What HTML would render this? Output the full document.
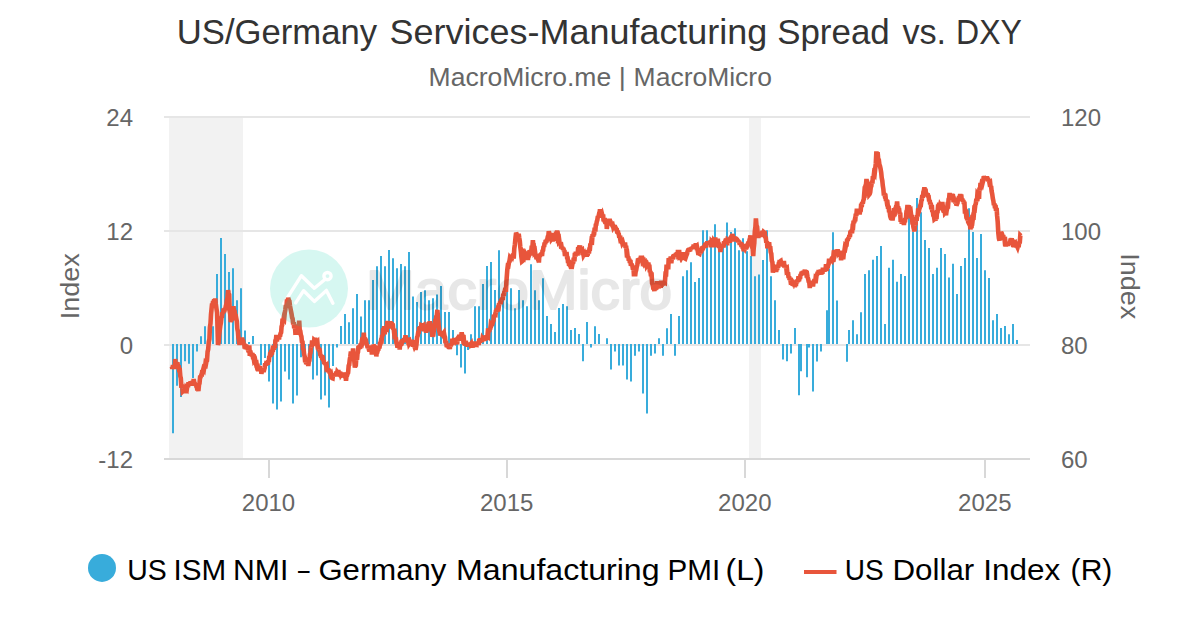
<!DOCTYPE html>
<html><head><meta charset="utf-8">
<style>
html,body{margin:0;padding:0;background:#fff;}
body{width:1200px;height:630px;overflow:hidden;}
svg{display:block;font-family:"Liberation Sans",sans-serif;}
</style></head><body>
<svg width="1200" height="630" viewBox="0 0 1200 630">
<rect width="1200" height="630" fill="#fff"/>
<text x="176.83" y="44.2" font-size="35" fill="#333333" textLength="200.24" lengthAdjust="spacingAndGlyphs">US/Germany</text>
<text x="389.62" y="44.2" font-size="35" fill="#333333" textLength="377.7" lengthAdjust="spacingAndGlyphs">Services-Manufacturing</text>
<text x="777.16" y="44.2" font-size="35" fill="#333333" textLength="112.59" lengthAdjust="spacingAndGlyphs">Spread</text>
<text x="902.38" y="44.2" font-size="35" fill="#333333" textLength="43.74" lengthAdjust="spacingAndGlyphs">vs.</text>
<text x="956.12" y="44.2" font-size="35" fill="#333333" textLength="65.83" lengthAdjust="spacingAndGlyphs">DXY</text>
<text x="428.63" y="85.8" font-size="25.4" fill="#666666" textLength="182.55" lengthAdjust="spacingAndGlyphs">MacroMicro.me</text>
<text x="618.87" y="85.8" font-size="25.4" fill="#666666" textLength="7.05" lengthAdjust="spacingAndGlyphs">|</text>
<text x="633.63" y="85.8" font-size="25.4" fill="#666666" textLength="138.28" lengthAdjust="spacingAndGlyphs">MacroMicro</text>
<rect x="169" y="117" width="74" height="342" fill="#f2f2f2"/>
<rect x="749" y="117" width="12" height="342" fill="#f2f2f2"/>
<path d="M164 117H1030M164 231H1030M164 345H1030" stroke="#e6e6e6" stroke-width="2" fill="none"/>
<path d="M164 459H1030" stroke="#d8d8d8" stroke-width="2" fill="none"/>
<path d="M269 460V478M507 460V478M745 460V478M985 460V478" stroke="#d8d8d8" stroke-width="2" fill="none"/>
<path fill="#38acdb" d="M172 344.0h2V433.3h-2ZM176 344.0h2V385.7h-2ZM180 344.0h2V397.1h-2ZM184 344.0h2V361.3h-2ZM188 344.0h2V363.8h-2ZM192 344.0h2V378.1h-2ZM196 344.0h2V351.4h-2ZM200 336.3h2V344.0h-2ZM204 326.3h2V344.0h-2ZM208 326.4h2V344.0h-2ZM212 326.3h2V344.0h-2ZM216 274.1h2V344.0h-2ZM220 238.0h2V344.0h-2ZM224 254.1h2V344.0h-2ZM228 272.0h2V344.0h-2ZM232 268.2h2V344.0h-2ZM236 300.2h2V344.0h-2ZM240 288.2h2V344.0h-2ZM244 330.4h2V344.0h-2ZM248 342.0h2V344.0h-2ZM252 336.0h2V344.0h-2ZM260 344.0h2V365.2h-2ZM264 344.0h2V358.0h-2ZM268 344.0h2V381.5h-2ZM272 344.0h2V403.4h-2ZM276 344.0h2V409.4h-2ZM280 344.0h2V401.6h-2ZM284 344.0h2V371.5h-2ZM288 344.0h2V379.6h-2ZM292 344.0h2V403.4h-2ZM296 344.0h2V395.6h-2ZM300 344.0h2V357.3h-2ZM304 344.0h2V350.0h-2ZM308 344.0h2V355.0h-2ZM312 344.0h2V379.6h-2ZM316 344.0h2V375.4h-2ZM320 344.0h2V399.5h-2ZM324 344.0h2V395.5h-2ZM328 344.0h2V407.6h-2ZM332 344.0h2V366.0h-2ZM336 344.0h2V347.6h-2ZM340 326.0h2V344.0h-2ZM344 314.1h2V344.0h-2ZM348 322.2h2V344.0h-2ZM352 308.2h2V344.0h-2ZM356 294.1h2V344.0h-2ZM360 316.4h2V344.0h-2ZM364 300.2h2V344.0h-2ZM368 300.2h2V344.0h-2ZM372 280.1h2V344.0h-2ZM376 266.2h2V344.0h-2ZM380 256.1h2V344.0h-2ZM384 266.2h2V344.0h-2ZM388 250.1h2V344.0h-2ZM392 258.2h2V344.0h-2ZM396 268.2h2V344.0h-2ZM400 264.1h2V344.0h-2ZM404 266.2h2V344.0h-2ZM408 252.1h2V344.0h-2ZM412 296.4h2V344.0h-2ZM416 302.1h2V344.0h-2ZM420 292.0h2V344.0h-2ZM424 290.3h2V344.0h-2ZM428 300.2h2V344.0h-2ZM432 298.3h2V344.0h-2ZM436 294.5h2V344.0h-2ZM440 286.0h2V344.0h-2ZM444 312.0h2V344.0h-2ZM448 312.1h2V344.0h-2ZM452 330.0h2V344.0h-2ZM456 344.0h2V355.3h-2ZM460 344.0h2V367.5h-2ZM464 344.0h2V373.4h-2ZM467 344.0h2V350.0h-2ZM470 334.2h2V344.0h-2ZM474 306.3h2V344.0h-2ZM478 306.3h2V344.0h-2ZM482 284.1h2V344.0h-2ZM486 266.1h2V344.0h-2ZM490 262.1h2V344.0h-2ZM494 290.1h2V344.0h-2ZM498 250.2h2V344.0h-2ZM502 298.0h2V344.0h-2ZM506 288.0h2V344.0h-2ZM510 288.3h2V344.0h-2ZM514 308.3h2V344.0h-2ZM518 290.1h2V344.0h-2ZM522 300.3h2V344.0h-2ZM526 306.3h2V344.0h-2ZM530 264.3h2V344.0h-2ZM534 290.2h2V344.0h-2ZM538 300.3h2V344.0h-2ZM542 278.3h2V344.0h-2ZM546 316.1h2V344.0h-2ZM550 324.1h2V344.0h-2ZM554 332.0h2V344.0h-2ZM558 307.9h2V344.0h-2ZM562 304.1h2V344.0h-2ZM566 306.2h2V344.0h-2ZM570 330.0h2V344.0h-2ZM574 328.0h2V344.0h-2ZM578 334.1h2V344.0h-2ZM582 344.0h2V361.3h-2ZM586 322.1h2V344.0h-2ZM590 344.0h2V347.5h-2ZM594 326.2h2V344.0h-2ZM598 334.1h2V344.0h-2ZM606 338.2h2V344.0h-2ZM610 344.0h2V369.5h-2ZM614 344.0h2V351.4h-2ZM618 344.0h2V365.4h-2ZM622 344.0h2V365.6h-2ZM626 344.0h2V379.5h-2ZM630 344.0h2V381.4h-2ZM634 344.0h2V355.7h-2ZM638 344.0h2V351.5h-2ZM642 344.0h2V393.4h-2ZM646 344.0h2V413.4h-2ZM650 344.0h2V355.7h-2ZM654 344.0h2V353.4h-2ZM658 338.2h2V344.0h-2ZM662 344.0h2V355.7h-2ZM666 328.2h2V344.0h-2ZM670 314.1h2V344.0h-2ZM674 344.0h2V355.7h-2ZM678 316.1h2V344.0h-2ZM682 276.3h2V344.0h-2ZM686 270.2h2V344.0h-2ZM690 262.2h2V344.0h-2ZM694 282.0h2V344.0h-2ZM698 277.9h2V344.0h-2ZM702 230.3h2V344.0h-2ZM706 230.3h2V344.0h-2ZM710 238.2h2V344.0h-2ZM714 224.2h2V344.0h-2ZM718 245.0h2V344.0h-2ZM722 247.0h2V344.0h-2ZM726 222.4h2V344.0h-2ZM730 232.1h2V344.0h-2ZM734 228.2h2V344.0h-2ZM738 250.2h2V344.0h-2ZM742 238.2h2V344.0h-2ZM746 251.2h2V344.0h-2ZM750 256.0h2V344.0h-2ZM754 276.3h2V344.0h-2ZM758 274.4h2V344.0h-2ZM762 260.1h2V344.0h-2ZM766 230.3h2V344.0h-2ZM770 276.3h2V344.0h-2ZM774 300.3h2V344.0h-2ZM778 330.0h2V344.0h-2ZM782 344.0h2V359.5h-2ZM786 344.0h2V361.3h-2ZM790 344.0h2V353.6h-2ZM794 328.1h2V344.0h-2ZM798 344.0h2V395.3h-2ZM800 344.0h2V371.3h-2ZM806 344.0h2V377.3h-2ZM808 344.0h2V347.4h-2ZM812 344.0h2V391.5h-2ZM816 344.0h2V361.5h-2ZM820 344.0h2V351.5h-2ZM826 310.3h2V344.0h-2ZM828 268.6h2V344.0h-2ZM832 232.3h2V344.0h-2ZM836 300.4h2V344.0h-2ZM846 344.0h2V361.7h-2ZM848 330.0h2V344.0h-2ZM852 320.2h2V344.0h-2ZM856 334.3h2V344.0h-2ZM860 312.2h2V344.0h-2ZM864 274.1h2V344.0h-2ZM868 270.2h2V344.0h-2ZM872 259.8h2V344.0h-2ZM876 255.9h2V344.0h-2ZM880 245.9h2V344.0h-2ZM884 324.1h2V344.0h-2ZM888 267.8h2V344.0h-2ZM892 259.8h2V344.0h-2ZM896 281.8h2V344.0h-2ZM900 274.1h2V344.0h-2ZM904 276.0h2V344.0h-2ZM908 217.0h2V344.0h-2ZM912 232.0h2V344.0h-2ZM916 197.9h2V344.0h-2ZM920 212.2h2V344.0h-2ZM924 240.0h2V344.0h-2ZM928 247.9h2V344.0h-2ZM932 274.1h2V344.0h-2ZM936 267.8h2V344.0h-2ZM940 247.9h2V344.0h-2ZM944 254.0h2V344.0h-2ZM948 277.6h2V344.0h-2ZM952 263.8h2V344.0h-2ZM956 294.0h2V344.0h-2ZM960 265.9h2V344.0h-2ZM964 257.9h2V344.0h-2ZM968 208.3h2V344.0h-2ZM972 232.0h2V344.0h-2ZM976 257.9h2V344.0h-2ZM980 234.1h2V344.0h-2ZM984 270.2h2V344.0h-2ZM988 278.1h2V344.0h-2ZM992 320.2h2V344.0h-2ZM996 314.1h2V344.0h-2ZM1000 327.9h2V344.0h-2ZM1004 326.0h2V344.0h-2ZM1008 334.3h2V344.0h-2ZM1012 324.1h2V344.0h-2ZM1016 340.0h2V344.0h-2Z"/>
<path d="M171.9 366.5 L172.4 368.7 L173.0 365.1 L173.6 368.2 L174.1 366.8 L174.7 369.0 L175.2 359.0 L175.8 365.9 L176.3 362.0 L176.8 365.3 L177.4 362.2 L178.0 366.9 L178.6 365.2 L179.2 370.1 L179.8 370.1 L180.3 376.2 L180.8 378.2 L181.4 387.8 L182.0 384.6 L182.7 391.6 L183.3 391.1 L183.8 392.6 L184.3 391.1 L184.8 392.3 L185.4 386.4 L185.9 393.3 L186.4 388.1 L186.9 388.7 L187.4 385.3 L188.0 387.2 L188.5 382.3 L189.0 385.5 L189.5 382.5 L190.1 384.0 L190.6 381.4 L191.1 384.3 L191.6 381.9 L192.1 385.7 L192.7 380.8 L193.2 383.9 L193.7 379.0 L194.2 382.3 L194.7 383.2 L195.3 385.5 L195.8 384.3 L196.3 386.3 L196.8 386.6 L197.4 390.4 L197.9 388.9 L198.4 391.1 L199.0 384.7 L199.5 383.5 L200.1 377.1 L200.6 376.9 L201.2 375.2 L201.7 376.5 L202.3 370.1 L202.8 371.4 L203.4 368.9 L203.9 369.6 L204.4 366.4 L204.9 368.2 L205.5 363.2 L206.0 363.8 L206.5 361.0 L207.0 360.5 L207.6 351.7 L208.2 349.3 L208.8 341.9 L209.4 339.3 L209.9 327.4 L210.5 323.3 L211.0 314.5 L211.6 308.5 L212.1 303.5 L212.6 305.3 L213.1 301.1 L213.7 302.4 L214.2 299.3 L214.7 301.3 L215.2 298.6 L215.8 304.0 L216.5 309.0 L217.1 312.7 L218.0 344.9 L218.6 342.1 L219.2 334.6 L219.8 329.8 L220.3 325.9 L220.9 322.6 L221.4 317.7 L222.0 316.7 L222.5 312.2 L223.1 313.6 L223.6 308.5 L224.2 312.1 L224.7 309.3 L225.3 309.0 L225.9 305.8 L226.4 304.0 L226.9 299.9 L227.5 297.9 L228.1 290.1 L228.6 292.9 L229.2 294.6 L229.7 311.2 L230.2 313.7 L230.8 322.1 L231.3 318.1 L231.9 320.7 L232.4 311.3 L233.0 312.2 L233.5 306.3 L234.0 311.0 L234.6 311.4 L235.1 314.8 L235.7 315.4 L236.2 318.1 L236.8 321.0 L237.3 328.7 L237.9 331.4 L238.4 337.7 L239.0 340.6 L239.5 344.9 L240.0 341.5 L240.5 340.8 L241.1 337.7 L241.6 341.4 L242.1 337.5 L242.6 341.8 L243.1 339.8 L243.7 344.3 L244.2 343.4 L244.7 348.4 L245.2 344.4 L245.8 349.2 L246.3 345.4 L246.8 346.7 L247.3 345.7 L247.8 349.9 L248.3 348.1 L248.8 352.5 L249.3 345.4 L249.8 355.9 L250.3 350.7 L250.8 353.9 L251.3 352.9 L251.9 356.4 L252.4 353.0 L252.9 356.8 L253.4 356.7 L254.0 360.4 L254.5 359.7 L255.0 362.9 L255.6 361.8 L256.1 364.2 L256.6 363.8 L257.1 367.2 L257.7 366.9 L258.2 371.3 L258.7 365.7 L259.3 370.7 L259.8 366.3 L260.4 370.6 L260.9 368.6 L261.4 373.9 L262.0 370.4 L262.5 371.7 L263.1 368.0 L263.6 371.8 L264.1 370.0 L264.7 367.8 L265.2 363.2 L265.7 365.4 L266.2 363.2 L266.8 363.3 L267.3 362.0 L267.8 364.6 L268.3 360.5 L268.8 362.0 L269.3 355.9 L269.8 356.9 L270.3 351.9 L270.8 356.6 L271.3 350.0 L271.8 354.7 L272.3 351.0 L272.8 351.8 L273.3 346.8 L273.8 349.6 L274.4 345.6 L274.9 348.2 L275.4 340.6 L275.9 340.2 L276.4 334.9 L276.9 341.6 L277.4 337.2 L277.9 338.4 L278.5 336.1 L279.0 339.4 L279.5 335.5 L280.0 336.6 L280.5 333.6 L281.1 332.6 L281.6 326.6 L282.1 325.2 L282.6 318.6 L283.2 321.1 L283.7 318.1 L284.2 318.8 L284.8 312.6 L285.3 310.1 L285.9 304.9 L286.4 307.5 L287.0 299.4 L287.6 302.4 L288.2 297.9 L288.8 300.1 L289.4 301.1 L289.9 305.3 L290.4 308.1 L291.0 311.1 L291.5 313.7 L292.1 317.6 L292.6 318.6 L293.2 324.6 L293.7 322.3 L294.2 328.4 L294.8 324.4 L295.3 331.7 L295.9 331.4 L296.4 334.5 L297.0 331.0 L297.5 332.5 L298.1 328.3 L298.6 329.7 L299.2 320.6 L299.7 329.6 L300.3 331.0 L300.8 334.7 L301.4 336.4 L301.9 341.5 L302.5 342.0 L303.0 348.9 L303.6 349.6 L304.1 354.2 L304.7 356.7 L305.2 362.3 L305.7 358.9 L306.2 364.3 L306.8 357.5 L307.3 364.7 L307.8 362.9 L308.3 365.9 L308.9 361.5 L309.4 360.6 L310.0 354.0 L310.5 352.8 L311.1 345.6 L311.6 347.5 L312.1 340.4 L312.6 345.9 L313.2 340.9 L313.7 344.7 L314.2 339.9 L314.7 340.3 L315.2 337.7 L315.8 343.1 L316.3 339.8 L316.9 343.0 L317.4 342.4 L318.0 349.5 L318.5 347.5 L319.1 351.0 L319.6 348.5 L320.2 354.6 L320.7 355.3 L321.2 357.6 L321.7 354.9 L322.2 359.7 L322.7 355.8 L323.2 361.1 L323.7 360.1 L324.2 363.9 L324.7 362.5 L325.2 364.7 L325.8 362.6 L326.3 366.9 L326.8 366.2 L327.3 370.7 L327.9 368.2 L328.4 372.2 L328.9 368.8 L329.5 372.3 L330.0 372.7 L330.5 374.5 L331.0 373.9 L331.6 377.3 L332.1 378.0 L332.6 378.2 L333.1 373.8 L333.6 376.4 L334.2 374.3 L334.7 376.4 L335.2 373.5 L335.7 375.0 L336.2 371.6 L336.8 374.5 L337.3 371.9 L337.8 372.5 L338.3 370.0 L338.9 374.0 L339.4 373.9 L339.9 375.2 L340.4 372.5 L340.9 374.6 L341.4 373.8 L341.9 374.0 L342.4 372.9 L342.9 375.0 L343.4 374.8 L343.9 375.5 L344.4 375.2 L345.0 376.3 L345.5 372.5 L346.0 380.9 L346.5 375.8 L347.1 375.4 L347.6 373.5 L348.1 372.7 L348.7 365.5 L349.2 364.8 L349.8 359.3 L350.3 356.6 L350.9 351.5 L351.4 354.6 L352.0 352.3 L352.5 354.4 L353.1 348.4 L353.7 356.6 L354.3 360.8 L354.9 367.6 L355.4 363.9 L355.9 364.0 L356.4 356.0 L357.0 359.8 L357.5 353.6 L358.0 352.0 L358.5 346.0 L359.0 349.1 L359.6 345.4 L360.1 348.7 L360.6 343.4 L361.1 345.5 L361.7 342.2 L362.2 342.9 L362.7 340.6 L363.3 340.4 L363.8 332.6 L364.4 341.4 L364.9 337.8 L365.5 340.8 L366.0 340.8 L366.6 344.4 L367.1 345.2 L367.7 348.0 L368.2 346.4 L368.7 348.5 L369.2 348.3 L369.8 351.7 L370.3 348.4 L370.8 350.3 L371.3 347.6 L371.9 354.5 L372.4 345.7 L373.0 348.7 L373.5 344.9 L374.1 346.1 L374.6 346.4 L375.2 350.8 L375.7 347.1 L376.3 356.4 L376.8 352.2 L377.3 352.1 L377.9 349.9 L378.4 349.5 L378.9 346.0 L379.4 348.4 L380.0 343.7 L380.5 343.6 L381.0 340.7 L381.6 340.9 L382.1 335.0 L382.7 336.0 L383.2 328.1 L383.7 333.5 L384.2 326.2 L384.7 334.3 L385.3 327.9 L385.8 330.5 L386.3 328.1 L386.8 328.5 L387.3 321.0 L387.9 326.2 L388.4 324.9 L388.9 328.3 L389.4 321.7 L390.0 325.6 L390.5 321.2 L391.0 325.3 L391.6 322.3 L392.1 326.0 L392.7 323.5 L393.2 329.6 L393.7 328.7 L394.3 334.3 L394.8 333.7 L395.3 338.8 L395.8 337.3 L396.4 342.9 L396.9 343.2 L397.5 347.8 L398.1 345.1 L398.7 346.8 L399.2 342.7 L399.7 349.6 L400.2 341.8 L400.8 345.8 L401.3 342.6 L401.8 342.7 L402.3 339.6 L402.8 342.3 L403.4 339.1 L403.9 341.2 L404.4 338.1 L404.9 342.3 L405.5 335.3 L406.0 338.8 L406.5 337.6 L407.0 341.6 L407.5 338.2 L408.1 341.4 L408.6 341.0 L409.1 343.8 L409.6 343.0 L410.1 346.1 L410.7 343.4 L411.2 343.3 L411.7 339.9 L412.2 343.4 L412.8 340.2 L413.3 346.7 L413.8 344.3 L414.4 346.2 L414.9 345.1 L415.5 349.9 L416.0 347.4 L416.5 344.3 L417.1 337.3 L417.6 336.2 L418.2 332.5 L418.7 332.3 L419.2 326.9 L419.8 329.9 L420.3 326.4 L420.8 330.5 L421.3 325.3 L421.9 325.6 L422.4 323.5 L422.9 326.0 L423.5 325.5 L424.0 331.4 L424.5 328.5 L425.0 330.2 L425.6 328.5 L426.1 332.7 L426.6 328.9 L427.1 331.0 L427.6 325.9 L428.2 325.0 L428.7 322.5 L429.2 323.6 L429.7 321.4 L430.2 324.4 L430.8 327.3 L431.3 330.1 L431.9 332.0 L432.4 336.8 L433.0 333.3 L433.5 333.5 L434.1 327.8 L434.6 325.5 L435.2 320.8 L435.8 320.7 L436.3 316.4 L436.8 315.8 L437.4 309.8 L438.0 317.7 L438.5 323.7 L439.1 330.3 L439.7 332.6 L440.2 335.3 L440.8 334.0 L441.3 334.4 L441.8 331.8 L442.3 335.0 L442.9 331.1 L443.4 333.5 L443.9 332.8 L444.5 336.0 L445.0 337.2 L445.5 343.2 L446.0 341.1 L446.6 345.5 L447.1 345.7 L447.6 346.8 L448.2 344.0 L448.7 346.9 L449.3 347.0 L449.8 348.9 L450.3 344.7 L450.8 346.3 L451.3 343.4 L451.9 344.8 L452.4 338.6 L452.9 343.8 L453.4 338.8 L453.9 339.8 L454.5 338.2 L455.0 344.5 L455.5 339.5 L456.0 340.9 L456.6 340.0 L457.1 344.4 L457.6 338.8 L458.1 340.8 L458.6 336.3 L459.1 340.6 L459.7 336.7 L460.2 338.4 L460.7 334.7 L461.2 336.1 L461.7 332.4 L462.2 336.0 L462.7 334.8 L463.2 339.7 L463.8 339.2 L464.3 345.0 L464.8 343.5 L465.3 345.4 L465.8 340.9 L466.4 345.6 L466.9 343.4 L467.4 346.7 L467.9 343.1 L468.5 346.4 L469.0 344.2 L469.5 345.5 L470.0 342.7 L470.5 344.4 L471.1 343.6 L471.6 346.6 L472.1 343.2 L472.6 347.7 L473.1 343.0 L473.6 346.8 L474.1 343.9 L474.6 347.1 L475.2 341.4 L475.7 346.0 L476.2 344.3 L476.7 344.5 L477.2 341.7 L477.7 344.7 L478.2 342.8 L478.7 345.0 L479.3 338.8 L479.8 341.7 L480.3 338.4 L480.8 340.9 L481.3 340.5 L481.9 341.8 L482.4 339.0 L482.9 339.9 L483.4 335.6 L484.0 340.9 L484.5 337.0 L485.0 340.4 L485.5 337.7 L486.0 339.2 L486.6 335.4 L487.1 339.9 L487.6 334.3 L488.1 335.0 L488.6 328.5 L489.2 331.9 L489.7 328.4 L490.2 329.6 L490.7 324.9 L491.3 325.8 L491.8 324.7 L492.3 324.3 L492.9 321.7 L493.4 320.8 L493.9 314.8 L494.4 316.8 L495.0 314.9 L495.5 315.0 L496.0 310.1 L496.5 312.2 L497.0 308.0 L497.6 311.3 L498.1 308.0 L498.6 308.2 L499.1 303.2 L499.6 304.4 L500.2 301.4 L500.7 304.0 L501.2 299.0 L501.7 299.8 L502.3 297.9 L502.8 300.0 L503.3 293.7 L503.8 296.0 L504.3 292.1 L504.9 290.5 L505.4 287.9 L505.9 291.9 L506.4 281.8 L507.3 269.7 L507.8 265.7 L508.4 265.9 L508.9 262.8 L509.5 260.9 L510.0 257.7 L510.5 258.3 L511.1 256.3 L511.6 257.8 L512.1 254.9 L512.6 256.0 L513.2 254.0 L513.7 258.7 L514.3 248.4 L514.9 244.3 L515.5 237.8 L516.1 232.8 L516.6 233.9 L517.1 236.3 L517.7 234.6 L518.2 237.8 L518.7 233.8 L519.2 237.6 L519.8 241.0 L520.3 247.0 L520.9 251.7 L521.4 256.9 L522.0 261.3 L522.5 260.9 L523.1 258.4 L523.6 258.7 L524.2 254.0 L524.7 254.8 L525.2 253.4 L525.8 254.5 L526.3 255.4 L526.9 258.0 L527.4 251.4 L527.9 260.0 L528.5 255.1 L529.0 255.1 L529.6 250.3 L530.1 255.6 L530.7 250.1 L531.2 252.3 L531.8 245.8 L532.3 249.2 L532.9 240.2 L533.4 247.7 L533.9 247.3 L534.4 252.1 L535.0 251.3 L535.5 255.2 L536.0 254.3 L536.5 259.3 L537.1 257.1 L537.8 258.9 L538.4 258.2 L538.9 262.6 L539.4 254.0 L539.9 256.8 L540.5 253.8 L541.0 254.9 L541.5 252.9 L542.0 255.9 L542.5 250.9 L543.1 250.2 L543.6 245.9 L544.1 247.0 L544.6 242.6 L545.2 244.2 L545.7 239.9 L546.2 242.4 L546.7 240.3 L547.2 240.0 L547.8 236.6 L548.3 235.9 L548.8 231.2 L549.3 233.3 L549.9 234.1 L550.4 236.2 L551.0 235.9 L551.5 239.0 L552.1 238.2 L552.6 241.4 L553.1 238.3 L553.6 240.6 L554.1 238.0 L554.6 239.3 L555.1 235.5 L555.6 237.9 L556.1 231.6 L556.6 235.4 L557.1 230.4 L557.7 237.6 L558.2 236.9 L558.7 240.7 L559.2 239.9 L559.8 244.2 L560.3 242.7 L560.8 245.6 L561.3 245.3 L561.8 248.2 L562.4 247.0 L562.9 249.6 L563.4 247.9 L563.9 251.2 L564.4 250.1 L565.0 256.1 L565.5 252.0 L566.0 255.9 L566.5 252.0 L567.1 257.6 L567.6 257.8 L568.1 263.0 L568.6 259.9 L569.1 265.9 L569.7 263.4 L570.2 266.9 L570.7 265.9 L571.2 269.0 L571.7 264.3 L572.3 264.9 L572.8 262.2 L573.3 262.0 L573.8 257.8 L574.4 261.3 L574.9 252.8 L575.4 256.6 L575.9 251.8 L576.4 254.5 L576.9 251.8 L577.5 255.5 L578.0 249.7 L578.5 249.8 L579.0 247.5 L579.5 247.5 L580.0 245.6 L580.5 248.9 L581.0 249.2 L581.6 250.6 L582.1 250.2 L582.6 254.9 L583.1 252.3 L583.6 255.3 L584.2 254.3 L584.7 256.9 L585.2 250.0 L585.7 254.6 L586.3 249.9 L586.8 256.3 L587.3 254.5 L587.8 254.2 L588.3 251.5 L588.9 253.4 L589.4 249.2 L589.9 249.1 L590.4 243.4 L591.0 244.6 L591.5 240.3 L592.1 240.8 L592.6 234.2 L593.2 236.7 L593.7 233.3 L594.2 233.3 L594.7 227.8 L595.3 231.6 L595.8 225.0 L596.3 224.6 L596.8 221.5 L597.3 220.1 L597.9 216.2 L598.4 217.3 L598.9 214.8 L599.4 215.0 L600.0 209.3 L600.5 213.2 L601.0 210.7 L601.5 214.9 L602.0 213.9 L602.6 216.3 L603.1 214.3 L603.6 221.3 L604.1 220.0 L604.6 221.2 L605.2 220.9 L605.7 223.9 L606.3 219.5 L606.8 228.9 L607.4 222.9 L607.9 224.2 L608.5 219.2 L609.0 222.2 L609.6 218.9 L610.1 221.4 L610.6 221.9 L611.1 225.1 L611.6 224.1 L612.2 225.3 L612.7 224.9 L613.2 227.0 L613.7 226.1 L614.2 226.6 L614.7 225.2 L615.2 227.4 L615.7 227.8 L616.3 229.5 L616.8 229.7 L617.3 233.4 L617.8 230.7 L618.3 233.4 L618.8 234.1 L619.3 237.8 L619.8 236.8 L620.3 239.5 L620.8 239.1 L621.3 241.1 L621.8 241.0 L622.3 243.1 L622.8 242.3 L623.4 244.5 L623.9 242.7 L624.5 245.7 L625.0 242.6 L625.6 248.1 L626.1 245.6 L626.7 253.2 L627.2 252.8 L627.8 257.9 L628.3 256.4 L628.8 260.8 L629.3 258.9 L629.9 263.0 L630.4 259.9 L630.9 265.7 L631.4 264.4 L631.9 264.8 L632.5 266.6 L633.0 269.7 L633.5 267.9 L634.0 276.3 L634.6 270.9 L635.1 276.3 L635.6 272.0 L636.2 270.0 L636.7 266.9 L637.3 264.9 L637.8 260.9 L638.3 261.0 L638.9 258.4 L639.4 260.2 L639.9 258.1 L640.4 260.3 L641.0 255.9 L641.5 259.5 L642.0 257.1 L642.5 261.0 L643.0 260.3 L643.6 262.4 L644.1 261.8 L644.6 263.8 L645.1 263.2 L645.6 266.9 L646.2 261.5 L646.7 265.3 L647.2 264.5 L647.7 265.9 L648.3 262.6 L648.8 266.2 L649.3 264.6 L649.9 272.2 L650.4 271.1 L651.0 276.3 L651.5 272.5 L652.1 283.2 L652.8 285.0 L653.4 289.5 L653.9 288.5 L654.4 291.1 L654.9 284.7 L655.5 289.6 L656.0 287.7 L656.5 287.6 L657.0 281.1 L657.5 287.2 L658.1 285.3 L658.6 288.5 L659.1 285.3 L659.6 287.1 L660.2 284.0 L660.7 287.9 L661.2 280.7 L661.7 286.4 L662.2 283.9 L662.8 285.3 L663.3 283.0 L663.8 282.9 L664.3 282.1 L664.9 282.5 L665.5 274.0 L666.1 274.1 L666.6 264.6 L667.2 268.4 L667.7 265.0 L668.2 269.3 L668.7 258.0 L669.3 262.0 L669.8 258.0 L670.3 260.5 L670.8 256.5 L671.3 263.3 L671.9 257.6 L672.4 259.2 L672.9 257.2 L673.4 257.2 L673.9 254.3 L674.4 256.5 L674.9 254.2 L675.4 255.9 L676.0 253.4 L676.5 254.7 L677.0 252.6 L677.5 256.6 L678.0 249.9 L678.5 259.4 L679.1 249.8 L679.6 256.5 L680.1 256.1 L680.6 257.2 L681.2 255.6 L681.7 257.3 L682.2 256.4 L682.7 255.4 L683.2 252.2 L683.8 258.0 L684.3 254.2 L684.8 258.3 L685.3 258.6 L685.9 256.7 L686.4 255.2 L687.0 254.0 L687.5 251.6 L688.1 250.1 L688.6 249.9 L689.1 251.6 L689.6 247.7 L690.1 251.2 L690.6 248.3 L691.1 249.5 L691.6 247.3 L692.1 248.7 L692.6 247.0 L693.1 248.3 L693.7 244.7 L694.2 246.9 L694.7 245.0 L695.2 248.7 L695.8 243.3 L696.3 246.2 L696.8 245.8 L697.4 249.1 L697.9 248.3 L698.5 255.0 L699.0 253.5 L699.5 253.8 L700.1 251.4 L700.6 253.3 L701.1 250.2 L701.6 251.4 L702.2 246.6 L702.7 249.3 L703.2 246.1 L703.7 247.4 L704.2 246.5 L704.8 247.6 L705.3 243.2 L705.8 247.6 L706.3 242.8 L706.8 244.4 L707.4 241.5 L707.9 244.0 L708.4 241.3 L708.9 243.5 L709.5 241.4 L710.0 243.3 L710.5 240.8 L711.0 247.3 L711.5 241.7 L712.1 242.4 L712.6 240.2 L713.1 243.4 L713.6 240.8 L714.1 241.5 L714.7 237.6 L715.2 242.6 L715.7 242.1 L716.2 247.2 L716.8 241.2 L717.3 246.2 L717.8 238.7 L718.3 245.9 L718.8 242.4 L719.4 248.1 L719.9 245.4 L720.4 252.0 L720.9 247.4 L721.4 248.3 L722.0 244.0 L722.5 247.6 L723.0 244.6 L723.5 247.6 L724.1 241.1 L724.6 242.9 L725.1 241.5 L725.6 241.9 L726.1 241.1 L726.7 243.2 L727.2 240.7 L727.7 241.2 L728.2 237.8 L728.7 240.6 L729.3 239.7 L729.8 242.8 L730.3 238.4 L730.8 240.0 L731.4 236.4 L731.9 237.7 L732.5 233.9 L733.1 241.4 L733.7 237.3 L734.2 240.0 L734.7 236.8 L735.2 238.5 L735.8 236.9 L736.3 241.2 L736.8 238.0 L737.3 241.1 L737.8 239.8 L738.4 242.3 L738.9 240.8 L739.4 243.0 L739.9 243.0 L740.5 243.5 L741.0 242.3 L741.5 247.0 L742.1 245.5 L742.6 247.4 L743.2 247.7 L743.7 251.3 L744.2 248.1 L744.8 249.0 L745.3 247.6 L745.8 249.3 L746.3 246.6 L746.9 246.8 L747.4 245.6 L747.9 244.0 L748.4 241.7 L748.9 244.5 L749.5 239.9 L750.0 238.0 L750.5 235.5 L751.0 239.1 L751.5 240.2 L752.1 247.1 L752.7 248.5 L753.2 256.1 L753.7 248.2 L754.3 243.0 L754.8 231.4 L755.4 227.2 L755.9 218.4 L756.5 225.6 L757.1 226.8 L757.7 233.6 L758.3 237.8 L758.8 235.8 L759.4 232.7 L759.9 235.6 L760.4 232.2 L760.9 237.1 L761.5 231.8 L762.0 234.2 L762.5 230.9 L763.1 233.5 L763.6 232.0 L764.2 232.5 L764.7 232.7 L765.2 237.0 L765.8 237.7 L766.3 242.7 L766.9 241.2 L767.4 248.4 L768.0 244.9 L768.5 247.3 L769.1 242.1 L769.6 247.7 L770.2 246.1 L770.7 252.0 L771.3 253.8 L771.8 260.7 L772.4 262.3 L772.9 272.7 L773.4 267.1 L774.0 269.1 L774.5 265.3 L775.0 266.4 L775.5 267.4 L776.1 271.9 L776.6 268.8 L777.1 270.1 L777.6 265.7 L778.1 267.7 L778.7 264.1 L779.2 264.1 L779.7 260.1 L780.2 261.2 L780.7 260.9 L781.3 263.7 L781.8 261.6 L782.3 265.0 L782.8 263.7 L783.4 266.1 L783.9 260.9 L784.4 267.5 L784.9 264.9 L785.4 267.9 L786.0 265.1 L786.5 270.0 L787.0 269.4 L787.5 274.4 L788.0 272.3 L788.6 277.9 L789.1 276.4 L789.6 279.9 L790.1 277.7 L790.7 282.0 L791.2 281.8 L791.7 284.6 L792.2 279.6 L792.7 285.9 L793.3 283.5 L793.8 284.4 L794.3 283.4 L794.8 287.0 L795.3 284.0 L795.9 286.0 L796.4 280.4 L796.9 283.2 L797.4 279.5 L798.0 282.0 L798.5 276.2 L799.0 281.1 L799.5 277.9 L800.0 279.0 L800.6 274.1 L801.1 275.8 L801.6 271.8 L802.1 273.4 L802.7 271.6 L803.2 274.9 L803.8 270.8 L804.3 273.0 L804.9 269.7 L805.4 274.3 L806.0 270.2 L806.5 274.4 L807.1 274.1 L807.6 277.2 L808.2 279.0 L808.7 281.6 L809.3 282.5 L809.8 288.1 L810.4 281.2 L810.9 285.7 L811.4 282.7 L811.9 286.2 L812.5 280.8 L813.0 286.4 L813.5 281.9 L814.0 283.1 L814.5 278.9 L815.1 283.3 L815.6 278.3 L816.1 278.8 L816.6 275.0 L817.2 274.4 L817.7 271.9 L818.2 274.3 L818.7 270.1 L819.2 274.2 L819.8 272.4 L820.3 274.5 L820.8 269.4 L821.3 274.6 L821.8 270.9 L822.4 273.7 L822.9 267.8 L823.4 270.2 L823.9 268.0 L824.5 271.5 L825.0 269.2 L825.5 270.7 L826.0 264.1 L826.5 271.0 L827.1 264.5 L827.6 268.2 L828.1 264.9 L828.6 264.2 L829.1 258.7 L829.7 263.0 L830.2 259.1 L830.7 261.7 L831.2 260.2 L831.8 260.8 L832.3 258.6 L832.8 262.0 L833.4 255.8 L833.9 256.4 L834.5 249.9 L835.0 253.8 L835.5 251.0 L836.0 253.1 L836.5 249.8 L837.0 252.1 L837.6 249.4 L838.1 252.5 L838.6 251.7 L839.1 256.2 L839.6 250.7 L840.1 256.5 L840.6 253.6 L841.1 260.4 L841.7 252.9 L842.2 255.2 L842.7 254.2 L843.2 259.3 L843.8 253.1 L844.4 250.9 L845.0 246.8 L845.5 247.5 L846.1 244.5 L846.6 244.5 L847.2 238.8 L847.7 240.8 L848.3 237.7 L848.8 238.7 L849.4 235.0 L849.9 237.0 L850.5 230.8 L851.0 232.8 L851.5 229.8 L852.0 233.4 L852.6 226.7 L853.1 226.9 L853.6 220.8 L854.1 222.9 L854.7 220.2 L855.2 221.2 L855.8 213.6 L856.3 216.0 L856.9 208.7 L857.4 212.6 L858.0 209.9 L858.5 214.1 L859.1 210.7 L859.6 214.5 L860.1 211.4 L860.7 210.6 L861.2 203.7 L861.7 206.9 L862.2 201.9 L862.8 203.5 L863.3 200.6 L863.8 199.2 L864.4 191.8 L864.9 192.4 L865.4 185.9 L866.0 184.2 L866.5 178.9 L867.0 183.4 L867.6 182.3 L868.1 186.7 L868.6 188.9 L869.2 194.5 L869.7 193.9 L870.2 192.2 L870.8 186.9 L871.3 186.2 L871.9 180.8 L872.4 183.7 L872.9 176.2 L873.5 178.0 L874.0 173.6 L874.6 174.4 L875.1 169.9 L875.8 163.2 L876.4 151.4 L877.0 156.5 L877.6 152.1 L878.2 159.3 L878.8 159.8 L879.4 164.5 L880.0 166.2 L880.6 168.9 L881.2 172.6 L881.7 177.7 L882.3 180.7 L882.8 185.7 L883.4 189.5 L883.9 195.6 L884.4 193.0 L884.9 196.2 L885.5 196.1 L886.0 200.9 L886.5 199.6 L887.0 203.3 L887.5 203.1 L888.1 208.7 L888.6 205.7 L889.1 212.3 L889.6 211.1 L890.2 216.2 L890.7 217.8 L891.3 219.5 L891.9 217.8 L892.5 220.3 L893.0 216.9 L893.5 216.0 L894.0 208.1 L894.5 216.3 L895.1 209.0 L895.6 208.7 L896.1 206.4 L896.6 206.1 L897.1 201.4 L897.6 208.2 L898.1 206.3 L898.6 210.1 L899.2 210.1 L899.7 214.5 L900.2 212.6 L900.7 222.0 L901.2 218.9 L901.8 223.7 L902.3 219.1 L902.8 223.8 L903.3 222.3 L903.9 224.8 L904.4 221.4 L904.9 222.3 L905.4 218.0 L905.9 219.0 L906.5 211.4 L907.0 210.4 L907.5 205.0 L908.0 209.1 L908.6 205.3 L909.1 210.3 L909.7 209.8 L910.2 213.2 L910.8 212.3 L911.3 216.5 L911.9 214.8 L912.4 222.9 L912.9 223.1 L913.5 227.6 L914.0 229.5 L914.5 231.3 L915.0 223.1 L915.5 225.3 L916.1 217.1 L916.6 220.9 L917.1 215.2 L917.6 216.5 L918.2 208.4 L918.7 213.2 L919.2 209.2 L919.7 208.1 L920.3 205.5 L920.8 205.4 L921.3 200.8 L921.8 200.0 L922.3 194.9 L922.9 197.9 L923.4 192.0 L923.9 190.7 L924.4 187.3 L925.0 191.0 L925.5 188.8 L926.0 194.2 L926.5 192.9 L927.0 196.3 L927.6 193.5 L928.1 196.1 L928.6 196.4 L929.2 201.4 L929.7 200.1 L930.2 204.4 L930.7 202.6 L931.3 209.4 L931.8 205.0 L932.3 212.0 L932.8 211.1 L933.3 215.3 L933.9 215.8 L934.4 219.3 L934.9 218.9 L935.4 220.6 L936.0 217.2 L936.5 219.0 L937.0 211.8 L937.6 211.6 L938.2 204.5 L938.7 207.9 L939.2 202.8 L939.7 208.2 L940.2 205.5 L940.8 206.5 L941.3 203.4 L941.8 204.8 L942.3 202.0 L942.8 206.6 L943.4 207.7 L943.9 212.7 L944.4 208.8 L944.9 212.9 L945.5 212.2 L946.0 215.3 L946.5 211.4 L947.0 209.1 L947.5 205.2 L948.1 205.5 L948.6 199.3 L949.1 198.5 L949.6 193.0 L950.1 198.1 L950.7 194.5 L951.2 197.6 L951.7 193.7 L952.2 199.4 L952.8 194.0 L953.3 199.2 L953.8 199.0 L954.3 202.1 L954.8 200.1 L955.4 203.4 L955.9 201.6 L956.4 205.5 L956.9 204.3 L957.5 203.0 L958.0 197.7 L958.6 199.6 L959.1 196.2 L959.7 198.2 L960.2 194.0 L960.7 200.9 L961.2 194.5 L961.8 200.4 L962.3 198.7 L962.8 201.5 L963.3 200.1 L963.9 203.8 L964.4 201.5 L965.0 213.6 L965.5 209.1 L966.1 214.6 L966.6 214.2 L967.2 220.3 L967.7 217.3 L968.3 223.3 L968.8 222.2 L969.3 225.1 L969.9 223.9 L970.4 229.3 L971.0 226.8 L971.5 228.0 L972.1 220.1 L972.6 220.7 L973.2 216.0 L973.7 216.3 L974.3 208.9 L974.8 209.2 L975.3 204.8 L975.8 203.8 L976.4 198.9 L976.9 201.4 L977.4 194.4 L977.9 195.1 L978.4 190.2 L979.0 198.9 L979.5 187.6 L980.0 190.5 L980.5 182.9 L981.1 187.5 L981.6 184.2 L982.1 184.9 L982.7 182.4 L983.2 181.0 L983.8 176.3 L984.3 177.9 L984.8 176.9 L985.4 179.7 L985.9 177.4 L986.4 179.9 L986.9 176.3 L987.5 180.3 L988.0 177.8 L988.5 181.3 L989.0 180.0 L989.5 182.9 L990.1 182.4 L990.6 187.0 L991.1 186.0 L991.6 191.1 L992.2 193.9 L992.8 198.3 L993.4 201.1 L993.9 205.3 L994.5 203.5 L995.0 208.2 L995.5 204.9 L996.0 210.8 L996.6 207.8 L997.1 215.5 L997.7 221.8 L998.3 232.8 L998.9 238.3 L999.5 240.6 L1000.0 235.0 L1000.6 236.2 L1001.1 232.1 L1001.7 233.2 L1002.2 234.7 L1002.7 236.9 L1003.2 235.0 L1003.8 240.0 L1004.3 236.9 L1004.8 241.8 L1005.3 241.3 L1005.9 246.6 L1006.4 242.1 L1007.0 245.2 L1007.5 242.8 L1008.1 245.9 L1008.6 242.4 L1009.1 244.2 L1009.6 242.9 L1010.2 241.7 L1010.7 238.6 L1011.2 240.5 L1011.7 238.3 L1012.2 241.1 L1012.8 239.7 L1013.3 247.0 L1013.8 240.2 L1014.3 243.6 L1014.9 243.1 L1015.4 247.1 L1015.9 243.6 L1016.5 247.5 L1017.0 246.1 L1017.6 247.4 L1018.1 245.7 L1018.6 247.3 L1019.2 242.1 L1019.7 243.5 L1020.3 235.5 L1020.8 236.0" fill="none" stroke="#e8553b" stroke-width="4.6" stroke-linejoin="miter" stroke-miterlimit="3" stroke-linecap="butt"/>
<defs><mask id="wm"><rect width="1200" height="630" fill="#fff"/>
<g fill="none" stroke="#000" stroke-width="3.4" stroke-linecap="round" stroke-linejoin="round">
<polyline points="283.6,303.6 301.4,275.7 314.3,288.2 324.3,280"/>
<circle cx="327.5" cy="276.1" r="3.6"/>
<polyline points="295.7,302.9 303.6,290.7 314.3,301.4 326.4,290.4 332.9,303.2"/>
</g></mask></defs>
<circle cx="309" cy="288.6" r="39" fill="rgb(0,205,165)" fill-opacity="0.16" mask="url(#wm)"/>
<g opacity="0.09"><text x="366" y="308.8" font-size="56" fill="#000" stroke="#000" stroke-width="2.2" stroke-linejoin="round" textLength="306" lengthAdjust="spacingAndGlyphs">MacroMicro</text></g>
<g font-size="24" fill="#666666">
<text x="133" y="126.3" text-anchor="end">24</text>
<text x="133" y="240.2" text-anchor="end">12</text>
<text x="133" y="354.2" text-anchor="end">0</text>
<text x="133" y="468.2" text-anchor="end">-12</text>
<text x="1061" y="126.3">120</text>
<text x="1061" y="240.2">100</text>
<text x="1061" y="354.2">80</text>
<text x="1061" y="468.2">60</text>
<text x="268.5" y="510.5" text-anchor="middle">2010</text>
<text x="506.7" y="510.5" text-anchor="middle">2015</text>
<text x="744.8" y="510.5" text-anchor="middle">2020</text>
<text x="984.8" y="510.5" text-anchor="middle">2025</text>
</g>
<text transform="translate(79,286.2) rotate(-90)" font-size="26.5" fill="#666666" text-anchor="middle" textLength="66" lengthAdjust="spacingAndGlyphs">Index</text>
<text transform="translate(1121,286.2) rotate(90)" font-size="26.5" fill="#666666" text-anchor="middle" textLength="66" lengthAdjust="spacingAndGlyphs">Index</text>
<circle cx="102" cy="567.9" r="14" fill="#38acdb"/>
<text x="127.31" y="579.6" font-size="28.8" fill="#000000" textLength="39.5" lengthAdjust="spacingAndGlyphs">US</text>
<text x="173.52" y="579.6" font-size="28.8" fill="#000000" textLength="52.66" lengthAdjust="spacingAndGlyphs">ISM</text>
<text x="233.03" y="579.6" font-size="28.8" fill="#000000" textLength="55.25" lengthAdjust="spacingAndGlyphs">NMI</text>
<text x="298.0" y="579.6" font-size="28.8" fill="#000000" textLength="11.51" lengthAdjust="spacingAndGlyphs">–</text>
<text x="318.44" y="579.6" font-size="28.8" fill="#000000" textLength="127.87" lengthAdjust="spacingAndGlyphs">Germany</text>
<text x="456.12" y="579.6" font-size="28.8" fill="#000000" textLength="203.45" lengthAdjust="spacingAndGlyphs">Manufacturing</text>
<text x="667.57" y="579.6" font-size="28.8" fill="#000000" textLength="52.66" lengthAdjust="spacingAndGlyphs">PMI</text>
<text x="725.52" y="579.6" font-size="28.8" fill="#000000" textLength="38.95" lengthAdjust="spacingAndGlyphs">(L)</text>
<path d="M804 572H836.5" stroke="#e8553b" stroke-width="4"/>
<text x="844.84" y="579.6" font-size="28.8" fill="#000000" textLength="38.95" lengthAdjust="spacingAndGlyphs">US</text>
<text x="892.43" y="579.6" font-size="28.8" fill="#000000" textLength="81.84" lengthAdjust="spacingAndGlyphs">Dollar</text>
<text x="983.35" y="579.6" font-size="28.8" fill="#000000" textLength="76.99" lengthAdjust="spacingAndGlyphs">Index</text>
<text x="1070.64" y="579.6" font-size="28.8" fill="#000000" textLength="41.73" lengthAdjust="spacingAndGlyphs">(R)</text>
</svg>
</body></html>
